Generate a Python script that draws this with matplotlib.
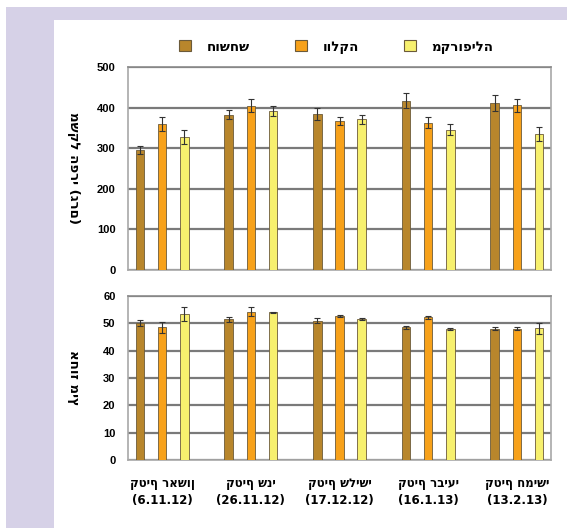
import matplotlib
matplotlib.use("Agg")
import matplotlib.pyplot as plt
import numpy as np
from matplotlib.patches import Rectangle, Patch

# ---- data ----
categories = ["קטיף ראשון (6.11.12)", "קטיף שני (26.11.12)", "קטיף שלישי (17.12.12)",
              "קטיף רביעי (16.1.13)", "קטיף חמישי (13.2.13)"]
series_names = ["חושחש", "וולקה", "מקרופילה"]
weight = [
    [296, 383, 384, 417, 412],   # חושחש
    [360, 405, 368, 363, 406],   # וולקה
    [327, 391, 371, 346, 335],   # מקרופילה
]
weight_err = [
    [10, 10, 14, 19, 20],
    [18, 17, 10, 14, 16],
    [17, 12, 12, 14, 17],
]
juice = [
    [50.2, 51.5, 51.0, 48.5, 48.0],
    [48.5, 54.3, 52.7, 52.2, 48.0],
    [53.3, 54.0, 51.7, 48.0, 48.2],
]
juice_err = [
    [1.0, 1.0, 1.0, 0.5, 0.5],
    [2.0, 1.5, 0.5, 0.5, 0.5],
    [2.5, 0.3, 0.3, 0.3, 2.0],
]
ylabel_top = "משקל הפרי (גרם)"
ylabel_bottom = "אחוז מיץ"
colors = ["#b8862c", "#f7a11a", "#f7f06e"]


def tick_label(s):
    heb, date = s.split(" (")
    return heb + "\n(" + date


plt.rcParams['font.family'] = ['DejaVu Sans']
fig = plt.figure(figsize=(5.67, 5.28), dpi=100)
W, H = 567, 528
# background frame
fig.patches.append(Rectangle((6 / W, 0), 1, 1 - 7 / H, transform=fig.transFigure,
                             facecolor="#d6d1e7", edgecolor="none", zorder=-10))
fig.patches.append(Rectangle((54 / W, 0), 1, 1 - 20 / H, transform=fig.transFigure,
                             facecolor="white", edgecolor="none", zorder=-9))

left, right = 128 / W, 551 / W
ax1 = fig.add_axes([left, 1 - 270 / H, right - left, (270 - 67) / H])
ax2 = fig.add_axes([left, 1 - 460 / H, right - left, (460 - 296) / H])

x = np.arange(len(categories))
offsets = [-0.25, 0.0, 0.25]
bw = 0.095

for ax, data, err, ymax, step in [(ax1, weight, weight_err, 500, 100),
                                  (ax2, juice, juice_err, 60, 10)]:
    for i in range(3):
        ax.bar(x + offsets[i], data[i], width=bw, color=colors[i],
               edgecolor="#6b5a3a", linewidth=0.6, zorder=3,
               yerr=err[i], capsize=2,
               error_kw=dict(ecolor="#333333", elinewidth=0.8, capthick=0.8, zorder=4))
    ax.set_ylim(0, ymax)
    ax.set_yticks(np.arange(0, ymax + 1, step))
    ax.set_xlim(-0.385, 4.385)
    ax.grid(axis="y", color="#7a7a7a", linewidth=1.6, zorder=0)
    for sp in ax.spines.values():
        sp.set_color("#a8a8a8")
        sp.set_linewidth(1.2)
    ax.spines["top"].set_color("#8a8a8a")
    ax.tick_params(axis="y", length=0, pad=9, labelsize=8)
    for t in ax.get_yticklabels():
        t.set_fontweight("bold")
        t.set_family(["Liberation Sans", "DejaVu Sans"])

ax1.set_xticks([])
ax2.set_xticks(x)
ax2.set_xticklabels([tick_label(c) for c in categories], fontsize=8.5,
                    fontweight="bold", linespacing=1.45)
ax2.tick_params(axis="x", length=0, pad=12)

ax1.set_ylabel(ylabel_top, fontsize=9.5, fontweight="bold", rotation=270, va="center")
ax1.yaxis.set_label_coords(-0.13, 0.5)
ax2.set_ylabel(ylabel_bottom, fontsize=9.5, fontweight="bold", rotation=270, va="center")
ax2.yaxis.set_label_coords(-0.13, 0.5)

handles = [Patch(facecolor=colors[i], edgecolor="#6b5a3a", linewidth=0.8) for i in range(3)]
fig.legend(handles, series_names, ncol=3, frameon=False,
           loc="center", bbox_to_anchor=(0.593, 1 - 47 / H),
           prop=dict(size=9.5, weight="bold"), handlelength=0.9, handleheight=0.9,
           columnspacing=3.4, handletextpad=1.2)

fig.savefig("out.png", dpi=100)
